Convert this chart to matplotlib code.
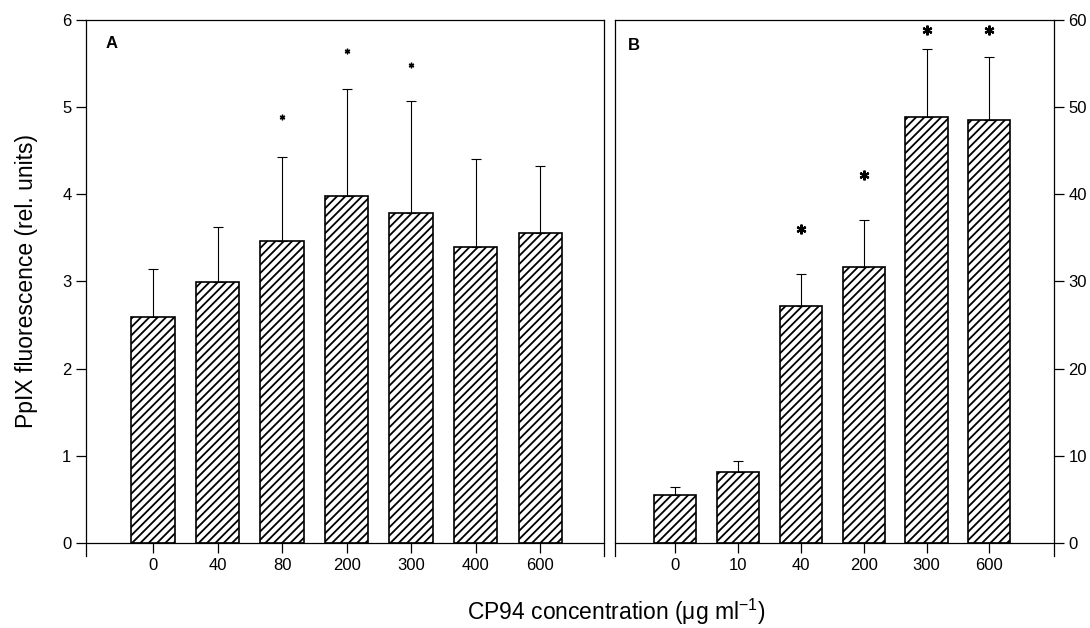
import matplotlib.pyplot as plt
import numpy as np

plt.rcParams['font.family'] = ['Liberation Sans', 'DejaVu Sans']
plt.rcParams['mathtext.fontset'] = 'custom'
plt.rcParams['mathtext.rm'] = 'Liberation Sans'
plt.rcParams['hatch.linewidth'] = 1.3

# panel A
conc_a = ['0', '40', '80', '200', '300', '400', '600']
mean_a = [2.59, 2.99, 3.46, 3.98, 3.78, 3.40, 3.56]
sd_a = [0.55, 0.63, 0.97, 1.23, 1.29, 1.00, 0.77]
star_x_a = [2, 3, 4]
star_y_a = [4.89, 5.64, 5.48]

# panel B
conc_b = ['0', '10', '40', '200', '300', '600']
mean_b = [5.5, 8.1, 27.2, 31.7, 48.9, 48.5]
sd_b = [0.9, 1.3, 3.7, 5.4, 7.8, 7.2]
star_x_b = [2, 3, 4, 5]
star_y_b = [36.0, 42.2, 58.8, 58.8]

fig = plt.figure(figsize=(10.9, 6.28), dpi=100)
axA = fig.add_axes([0.0789, 0.1146, 0.4752, 0.8536])
axB = fig.add_axes([0.5642, 0.1146, 0.4028, 0.8536])


def panel(ax, labels, means, sds, sx, sy, ylim, msize, mew):
    x = np.arange(len(labels))
    ax.bar(x, means, width=0.67, color='white', edgecolor='black',
           linewidth=1.2, hatch='////', zorder=2)
    ax.errorbar(x, means, yerr=[np.zeros(len(sds)), sds], fmt='none',
                ecolor='black', elinewidth=0.8, capsize=3.6, capthick=0.8,
                zorder=3)
    ax.plot(sx, sy, linestyle='none', marker=(6, 2, 0), color='black',
            markersize=msize, markeredgewidth=mew, zorder=4)
    ax.set_xticks(x)
    ax.set_xticklabels(labels)
    ax.set_ylim(ylim)
    ax.spines['bottom'].set_position(('data', 0))
    for s in ax.spines.values():
        s.set_linewidth(0.9)
    ax.tick_params(axis='x', direction='out', length=7, width=0.9, pad=4,
                   labelsize=12)
    ax.tick_params(axis='y', direction='out', length=7, width=0.9,
                   labelsize=12)


panel(axA, conc_a, mean_a, sd_a, star_x_a, star_y_a, (-0.15, 6), 4, 1.0)
axA.set_xlim(-1.04, 6.99)
axA.set_yticks(range(0, 7))
axA.text(-0.74, 5.82, 'A', fontsize=12, fontweight='bold', ha='left', va='top')

panel(axB, conc_b, mean_b, sd_b, star_x_b, star_y_b, (-1.5, 60), 7, 1.6)
axB.set_xlim(-0.96, 6.03)
axB.set_yticks(range(0, 61, 10))
axB.yaxis.tick_right()
axB.text(-0.75, 57.9, 'B', fontsize=12, fontweight='bold', ha='left', va='top')

fig.text(0.024, 0.553, 'PpIX fluorescence (rel. units)', rotation=90,
         fontsize=16.5, ha='center', va='center')
fig.text(0.565, 0.002, 'CP94 concentration (μg ml$^{-1}$)', fontsize=16.5,
         ha='center', va='bottom')

plt.savefig('out.png', dpi=100)
